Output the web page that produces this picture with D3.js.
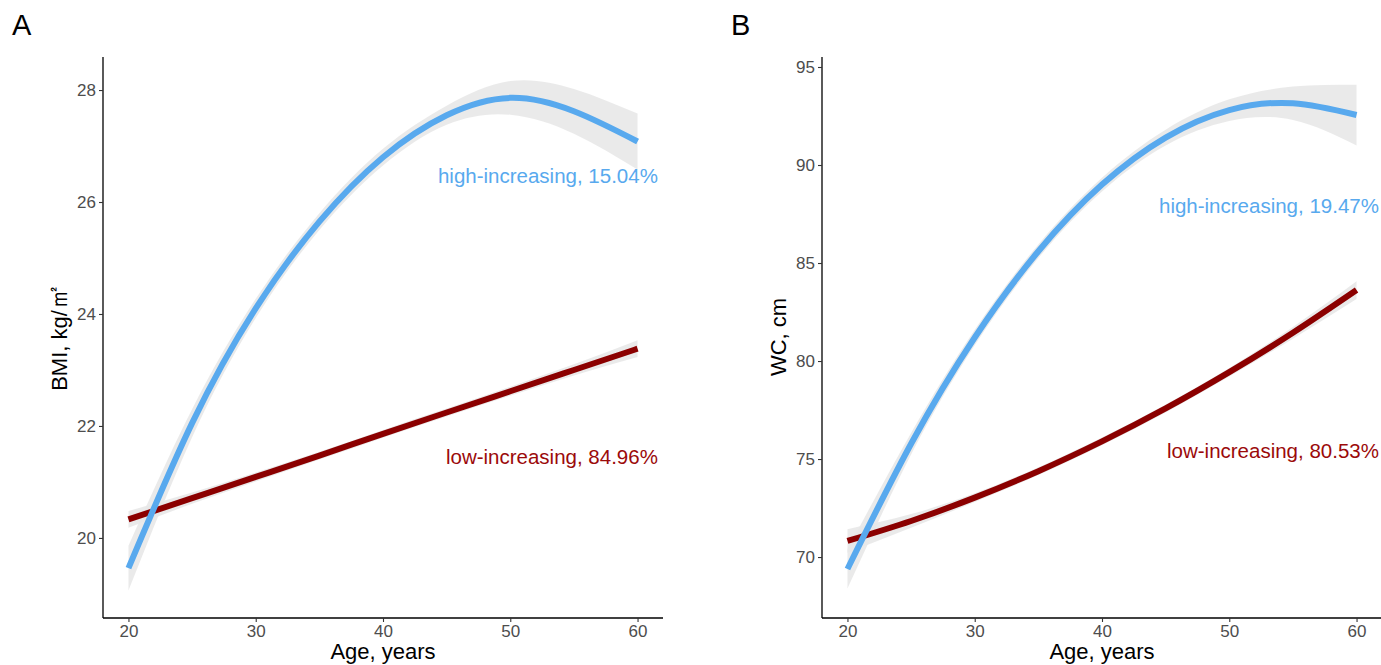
<!DOCTYPE html>
<html><head><meta charset="utf-8">
<script src="https://cdn.jsdelivr.net/npm/d3@7"></script>
<style>
body{margin:0;background:#fff;}
svg{display:block;font-family:"Liberation Sans",Arial,sans-serif;}
</style></head>
<body><svg id="c" width="1381" height="665"></svg>
<script>
// ---- data ----
const ages = [20,25,30,35,40,45,50,55,60];
const xTicks = [20,30,40,50,60];

// Panel A: BMI
const bmiHighMean = [19.46,22.05,24.1,25.65,26.8,27.55,27.86,27.62,27.08];
const bmiHighHalf = [0.4,0.25,0.17,0.15,0.15,0.17,0.3,0.4,0.5];
const bmiLowMean  = [20.33,20.71,21.09,21.47,21.86,22.24,22.62,23.0,23.38];
const bmiLowHalf  = [0.15,0.1,0.08,0.07,0.07,0.07,0.08,0.1,0.15];
const bmiTicks = [20,22,24,26,28];

// Panel B: WC
const wcHighMean = [69.39,75.78,81.2,85.6,89.0,91.4,92.8,93.15,92.55];
const wcHighHalf = [1.0,0.55,0.4,0.35,0.35,0.4,0.55,0.85,1.55];
const wcLowMean  = [70.82,71.84,73.03,74.38,75.9,77.58,79.43,81.44,83.62];
const wcLowHalf  = [0.6,0.35,0.22,0.2,0.2,0.2,0.22,0.3,0.45];
const wcTicks = [70,75,80,85,90,95];

const labelsA = ["high-increasing, 15.04%","low-increasing, 84.96%"];
const labelsB = ["high-increasing, 19.47%","low-increasing, 80.53%"];

const BLUE = "#58A9EE", RED = "#8B0000", BAND = "#E8E8E8";

const svg = d3.select("#c");

function panel(o){
  const x = d3.scaleLinear().domain([18,62]).range([o.left, o.left+560]);
  const y = d3.scaleLinear().domain(o.yDomain).range([618,57]);
  const g = svg.append("g");

  const series = [
    {mean:o.lowMean, half:o.lowHalf, color:RED},
    {mean:o.highMean, half:o.highHalf, color:BLUE}
  ];
  const area = d3.area().curve(d3.curveNatural)
    .x((d,i)=>x(ages[i])).y0((d,i)=>y(d.m-d.h)).y1((d,i)=>y(d.m+d.h));
  const line = d3.line().curve(d3.curveNatural)
    .x((d,i)=>x(ages[i])).y(d=>y(d.m));
  series.forEach(s=>{
    const pts = s.mean.map((m,i)=>({m:m,h:s.half[i]}));
    g.append("path").attr("d",area(pts)).attr("fill",BAND).attr("opacity",0.9);
  });
  series.forEach(s=>{
    const pts = s.mean.map((m,i)=>({m:m,h:s.half[i]}));
    g.append("path").attr("d",line(pts)).attr("fill","none")
      .attr("stroke",s.color).attr("stroke-width",6);
  });

  // axes
  const xa = g.append("g").attr("transform","translate(0,618)")
    .call(d3.axisBottom(x).tickValues(xTicks).tickSize(4).tickPadding(3));
  const ya = g.append("g").attr("transform",`translate(${o.left},0)`)
    .call(d3.axisLeft(y).tickValues(o.yTicks).tickSize(4).tickPadding(3));
  [xa,ya].forEach(a=>{
    a.select(".domain").attr("stroke","#000").attr("stroke-width",1.3);
    a.selectAll(".tick line").attr("stroke","#333").attr("stroke-width",1.1);
    a.selectAll(".tick text").attr("fill","#4D4D4D").attr("font-size","17px")
      .attr("font-family","'Liberation Sans',Arial,sans-serif");
  });
  xa.select(".domain").attr("d",`M${o.left},0H${o.left+560}`);
  ya.select(".domain").attr("d",`M0,618V57`);

  // titles
  g.append("text").attr("x",o.left+280).attr("y",659).attr("text-anchor","middle")
    .attr("font-size","22px").attr("fill","#000").text("Age, years");
  const yt = g.append("text").attr("transform",`translate(${o.left-36},337) rotate(-90)`)
    .attr("text-anchor","middle").attr("font-size","22px").attr("fill","#000");
  yt.append("tspan").text(o.yTitle);
  if (o.yUnit) yt.append("tspan").attr("font-size","27px").text(o.yUnit);
  g.append("text").attr("x",o.left-91).attr("y",35).attr("font-size","29px")
    .attr("fill","#000").text(o.tag);

  // annotations
  g.append("text").attr("x",x(o.labX)).attr("y",y(o.labYHigh)).attr("dy","0.35em")
    .attr("text-anchor","end").attr("font-size","20.5px").attr("fill",BLUE).text(o.labels[0]);
  g.append("text").attr("x",x(o.labX)).attr("y",y(o.labYLow)).attr("dy","0.35em")
    .attr("text-anchor","end").attr("font-size","20.5px").attr("fill","#9B0A0A").text(o.labels[1]);
}

panel({left:103, yDomain:[18.57,28.59], yTicks:bmiTicks, highMean:bmiHighMean, highHalf:bmiHighHalf,
  lowMean:bmiLowMean, lowHalf:bmiLowHalf, yTitle:"BMI, kg/", yUnit:"㎡", tag:"A", labels:labelsA,
  labX:61.6, labYHigh:26.46, labYLow:21.45});
panel({left:822, yDomain:[66.89,95.51], yTicks:wcTicks, highMean:wcHighMean, highHalf:wcHighHalf,
  lowMean:wcLowMean, lowHalf:wcLowHalf, yTitle:"WC, cm", yUnit:"", tag:"B", labels:labelsB,
  labX:61.76, labYHigh:87.9, labYLow:75.4});
</script></body></html>
